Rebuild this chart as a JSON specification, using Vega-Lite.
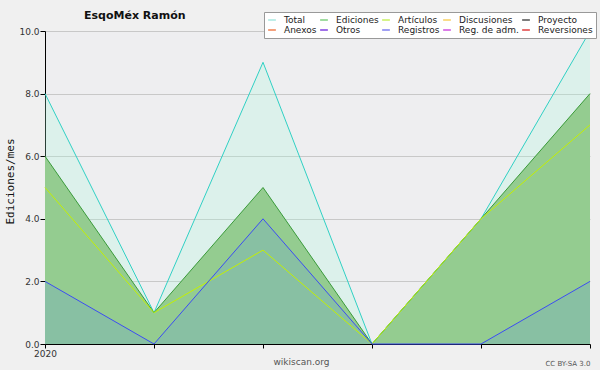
{
  "$schema": "https://vega.github.io/schema/vega-lite/v6.json",
  "width": 545,
  "height": 313,
  "autosize": {"type": "none"},
  "padding": {"left": 45, "top": 31, "right": 10, "bottom": 26},
  "background": "#f0f0f0",
  "title": {"text": "EsqoMéx Ramón", "anchor": "start", "dx": 80, "dy": 19, "fontSize": 11, "fontWeight": "bold", "font": "DejaVu Sans", "color": "#111111", "offset": 10},
  "data": {"values": [
    {"mes": "2020-01", "serie": "Total", "valor": 8},
    {"mes": "2020-02", "serie": "Total", "valor": 1},
    {"mes": "2020-03", "serie": "Total", "valor": 9},
    {"mes": "2020-04", "serie": "Total", "valor": 0},
    {"mes": "2020-05", "serie": "Total", "valor": 4},
    {"mes": "2020-06", "serie": "Total", "valor": 10},
    {"mes": "2020-01", "serie": "Ediciones", "valor": 6},
    {"mes": "2020-02", "serie": "Ediciones", "valor": 1},
    {"mes": "2020-03", "serie": "Ediciones", "valor": 5},
    {"mes": "2020-04", "serie": "Ediciones", "valor": 0},
    {"mes": "2020-05", "serie": "Ediciones", "valor": 4},
    {"mes": "2020-06", "serie": "Ediciones", "valor": 8},
    {"mes": "2020-01", "serie": "Artículos", "valor": 5},
    {"mes": "2020-02", "serie": "Artículos", "valor": 1},
    {"mes": "2020-03", "serie": "Artículos", "valor": 3},
    {"mes": "2020-04", "serie": "Artículos", "valor": 0},
    {"mes": "2020-05", "serie": "Artículos", "valor": 4},
    {"mes": "2020-06", "serie": "Artículos", "valor": 7},
    {"mes": "2020-01", "serie": "Registros", "valor": 2},
    {"mes": "2020-02", "serie": "Registros", "valor": 0},
    {"mes": "2020-03", "serie": "Registros", "valor": 4},
    {"mes": "2020-04", "serie": "Registros", "valor": 0},
    {"mes": "2020-05", "serie": "Registros", "valor": 0},
    {"mes": "2020-06", "serie": "Registros", "valor": 2}
  ]},
  "layer": [
    {
      "encoding": {
        "x": {"field": "mes", "type": "ordinal", "scale": {"type": "point", "padding": 0},
          "axis": {"title": "wikiscan.org", "titleFontSize": 9, "titleFontWeight": "normal", "titleColor": "#555555", "titleX": 256, "titleY": 20, "titleAlign": "center", "titleBaseline": "alphabetic",
            "labelExpr": "datum.value == '2020-01' ? '2020' : ''", "labelAngle": 0, "labelFontSize": 9, "labelColor": "#333333", "labelPadding": 1,
            "tickSize": 4, "tickColor": "#000000", "domainColor": "#000000", "grid": false}},
        "y": {"field": "valor", "type": "quantitative", "scale": {"domain": [0, 10], "nice": false},
          "axis": {"title": "Ediciones/mes", "titleFont": "DejaVu Sans Mono", "titleFontSize": 11, "titleFontWeight": "normal", "titleColor": "#111111",
            "titleAngle": -90, "titleX": -35, "titleY": 150, "titleAlign": "center", "titleBaseline": "middle",
            "values": [0, 0.5, 1, 1.5, 2, 2.5, 3, 3.5, 4, 4.5, 5, 5.5, 6, 6.5, 7, 7.5, 8, 8.5, 9, 9.5, 10],
            "labelExpr": "datum.value % 2 === 0 ? format(datum.value, '.1f') : ''",
            "labelFontSize": 9, "labelColor": "#333333", "labelPadding": 1,
            "tickSize": {"condition": {"test": "datum.value % 2 === 0", "value": 5}, "value": 3},
            "tickColor": "#000000", "domainColor": "#000000",
            "grid": true, "gridColor": "#c8c8c8",
            "gridOpacity": {"condition": {"test": "datum.value % 2 === 0 && datum.value > 0", "value": 1}, "value": 0}}}
      },
      "layer": [
        {
          "transform": [{"filter": "datum.serie === 'Total'"}],
          "mark": {"type": "area", "fill": "#a6fadc", "fillOpacity": 0.25}
        },
        {
          "transform": [{"filter": "datum.serie === 'Ediciones'"}],
          "mark": {"type": "area", "fill": "#94cc90", "fillOpacity": 1}
        },
        {
          "transform": [{"filter": "datum.serie === 'Registros'"}],
          "mark": {"type": "area", "fill": "#88c0a3", "fillOpacity": 1}
        },
        {
          "mark": {"type": "line", "strokeWidth": 1},
          "encoding": {
            "stroke": {"field": "serie", "type": "nominal",
              "scale": {"domain": ["Total", "Ediciones", "Artículos", "Registros"], "range": ["#30d0c4", "#3a9a3a", "#c4f000", "#3c4cf4"]},
              "legend": null}
          }
        }
      ]
    },
    {
      "mark": {"type": "line", "opacity": 0},
      "encoding": {
        "x": {"field": "mes", "type": "ordinal", "scale": {"type": "point", "padding": 0},
          "axis": {"orient": "top", "labels": false, "ticks": false, "domain": false, "grid": false,
            "title": "CC BY-SA 3.0", "titleFontSize": 7, "titleFontWeight": "normal", "titleColor": "#555555",
            "titleX": 545, "titleY": 334, "titleAlign": "right", "titleBaseline": "alphabetic"}},
        "y": {"field": "valor", "type": "quantitative"},
        "color": {"field": "serie", "type": "nominal",
          "scale": {"domain": ["Total", "Ediciones", "Artículos", "Discusiones", "Proyecto", "Anexos", "Otros", "Registros", "Reg. de adm.", "Reversiones"],
            "range": ["#a8e8e0", "#80d080", "#c8f060", "#f8d060", "#505050", "#f08050", "#8040e0", "#8080f0", "#d050e0", "#e04040"]},
          "legend": {"title": null, "orient": "none", "legendX": 219, "legendY": -19, "columns": 5, "direction": "horizontal",
            "fillColor": "#ffffff", "strokeColor": "#999999", "padding": 3,
            "symbolType": "stroke", "symbolSize": 60, "symbolStrokeWidth": 1.5, "symbolOpacity": 1,
            "labelFontSize": 9, "labelFont": "DejaVu Sans", "labelColor": "#222222", "labelOffset": 7,
            "columnPadding": 0, "rowPadding": 0}}
      }
    }
  ],
  "resolve": {"axis": {"x": "independent"}},
  "config": {
    "font": "DejaVu Sans",
    "view": {"fill": "#eeeef0", "stroke": null}
  }
}
